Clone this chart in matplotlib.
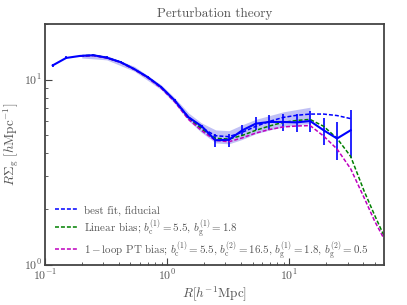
import numpy as np
import matplotlib
matplotlib.use("Agg")
import matplotlib.pyplot as plt

plt.rcParams['font.family'] = ['cmr10', 'DejaVu Serif']
plt.rcParams['mathtext.fontset'] = 'cm'
plt.rcParams['axes.formatter.use_mathtext'] = True

# data (measured)
R_data = [0.1156, 0.149, 0.193, 0.249, 0.321, 0.415, 0.536, 0.692, 0.893, 1.152, 1.488,
          1.92, 2.48, 3.20, 4.13, 5.33, 6.88, 8.88, 11.47, 14.8, 19.1, 24.6, 31.8]
Y_data = [11.95, 13.11, 13.44, 13.56, 13.15, 12.45, 11.43, 10.33, 9.12, 7.73, 6.28,
          5.60, 4.71, 4.73, 5.33, 5.79, 5.91, 5.91, 5.88, 5.98, 5.33, 4.81, 5.33]
Y_err = [0.25, 0.25, 0.2, 0.2, 0.2, 0.18, 0.15, 0.15, 0.13, 0.1, 0.1,
         0.12, 0.36, 0.38, 0.34, 0.47, 0.54, 0.64, 0.64, 0.79, 0.90, 1.13, 1.55]

# models
R_model = [0.193, 0.249, 0.321, 0.415, 0.536, 0.692, 0.893, 1.152, 1.488, 1.92, 2.48,
           3.20, 4.13, 5.33, 6.88, 8.88, 11.47, 14.8, 19.1, 24.6, 31.8, 41.0, 50.0, 60.0]
Y_bestfit = [13.45, 13.55, 13.15, 12.45, 11.43, 10.33, 9.12, 7.73, 6.3, 5.5, 4.98,
             4.92, 5.2, 5.6, 5.95, 6.25, 6.42, 6.52, 6.52, 6.4, 6.16]
Y_linear = [13.45, 13.55, 13.15, 12.45, 11.4, 10.3, 9.08, 7.68, 6.22, 5.4, 4.82,
            4.78, 5.0, 5.33, 5.62, 5.88, 6.02, 6.1, 5.6, 4.82, 3.85, 2.5, 1.85, 1.42]
Y_oneloop = [13.4, 13.5, 13.1, 12.4, 11.35, 10.25, 9.0, 7.6, 6.12, 5.3, 4.7,
             4.62, 4.85, 5.15, 5.38, 5.55, 5.62, 5.65, 4.96, 4.22, 3.3, 2.3, 1.72, 1.37]

# uncertainty band of best fit
R_band = [0.2, 0.32, 0.54, 0.89, 1.15, 1.5, 1.9, 2.5, 3.2, 4.1, 5.3, 6.9, 8.9, 11.5, 14.8]
band_lo = [13.1, 12.8, 11.1, 8.85, 7.45, 6.0, 5.2, 4.55, 4.5, 4.75, 5.1, 5.35, 5.55, 5.7, 5.8]
band_hi = [13.8, 13.5, 11.8, 9.4, 8.0, 6.6, 5.85, 5.35, 5.3, 5.7, 6.1, 6.4, 6.7, 6.9, 7.1]

fig = plt.figure(figsize=(4.07, 3.05), dpi=100)
ax = fig.add_axes([0.1106, 0.1321, 0.8337, 0.7892])

gray = '#555555'
ax.fill_between(R_band, band_lo, band_hi, color='#3030e0', alpha=0.3, lw=0)
ax.errorbar(R_data, Y_data, yerr=Y_err, color='#0000ff', lw=1.5, elinewidth=1.2, capsize=0)
dash = (2.6, 1.3)
ax.plot(R_model[:len(Y_bestfit)], Y_bestfit, color='#0000ff', lw=1.1, dashes=dash,
        label='best fit, fiducial')
ax.plot(R_model, Y_linear, color='#008000', lw=1.1, dashes=dash,
        label=r'Linear bias; $b_{\rm c}^{(1)}=5.5$, $b_{\rm g}^{(1)}=1.8$')
ax.plot(R_model, Y_oneloop, color='#bf00bf', lw=1.1, dashes=dash,
        label=r'$1-$loop PT bias; $b_{\rm c}^{(1)}=5.5$, $b_{\rm c}^{(2)}=16.5$, '
              r'$b_{\rm g}^{(1)}=1.8$, $b_{\rm g}^{(2)}=0.5$')

ax.set_xscale('log')
ax.set_yscale('log')
ax.set_xlim(0.1, 60)
ax.set_ylim(1, 20)

for s in ax.spines.values():
    s.set_color('#444444')
    s.set_linewidth(1.3)

ax.tick_params(which='both', direction='in', top=False, right=False, colors='#444444',
               labelcolor=gray, labelsize=8.5)
ax.tick_params(which='major', length=5, width=0.8, pad=2)
ax.tick_params(which='minor', length=2.5, width=0.6)

ax.set_title('Perturbation theory', fontsize=9.5, color=gray, pad=5)
ax.set_xlabel(r'$R[h^{-1}{\rm Mpc}]$', fontsize=9.5, color=gray, labelpad=1)
ax.set_ylabel(r'$R\Sigma_{\rm g}\ [h{\rm Mpc}^{-1}]$', fontsize=9.5, color=gray, labelpad=2)

leg = ax.legend(loc='lower left', frameon=False, fontsize=7.9, handlelength=2.1,
                handleheight=1.75, labelspacing=0.0, borderaxespad=0.0,
                handletextpad=0.6, bbox_to_anchor=(0.016, -0.008))
for t in leg.get_texts():
    t.set_color(gray)

fig.savefig('out.png', dpi=100)
